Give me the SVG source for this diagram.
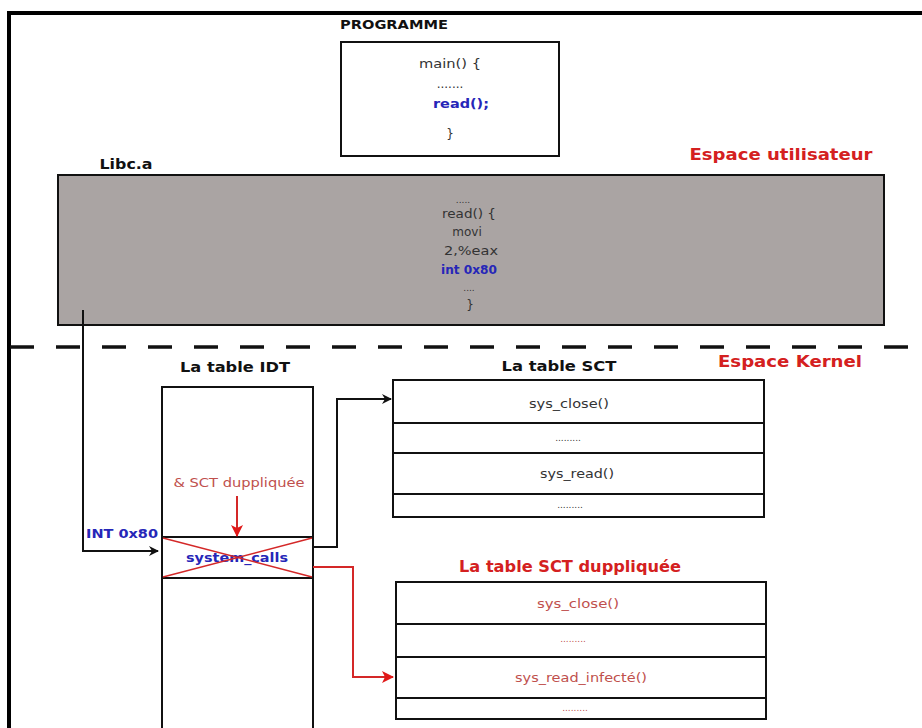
<svg xmlns="http://www.w3.org/2000/svg" width="922" height="728" viewBox="0 0 922 728">
<style>
text{font-family:"DejaVu Sans",Verdana,sans-serif;text-anchor:middle}
.h{font-weight:bold;font-size:14px;fill:#111}
.r{font-weight:bold;font-size:16px;fill:#d42020}
.c{font-size:12px;fill:#333}
.b{font-weight:bold;font-size:12px;fill:#2626b8}
.pr{font-size:12px;fill:#c0504d}
.box{fill:#fff;stroke:#111;stroke-width:2}
.ln{stroke:#111;stroke-width:2;fill:none}
.rl{stroke:#d42828;stroke-width:2;fill:none}
</style>
<defs>
<marker id="ab" markerWidth="10" markerHeight="10" refX="9" refY="5" orient="auto" markerUnits="userSpaceOnUse"><path d="M0,0 L10,5 L0,10 L3,5 Z" fill="#111"/></marker>
<marker id="ar" markerWidth="12" markerHeight="12" refX="11" refY="6" orient="auto" markerUnits="userSpaceOnUse"><path d="M0,0 L12,6 L0,12 L3,6 Z" fill="#e01818"/></marker>
</defs>
<rect width="922" height="728" fill="#fff"/>
<path d="M9,728 V13 H922" fill="none" stroke="#000" stroke-width="4"/>
<line x1="10" y1="347" x2="922" y2="347" stroke="#111" stroke-width="3.5" stroke-dasharray="24 22"/>
<text x="781" y="160" class="r" textLength="183" lengthAdjust="spacingAndGlyphs">Espace utilisateur</text>
<text x="790" y="367" class="r" textLength="144" lengthAdjust="spacingAndGlyphs">Espace Kernel</text>

<g id="programme">
<text x="394" y="29" class="h" style="font-size:12px" textLength="108" lengthAdjust="spacingAndGlyphs">PROGRAMME</text>
<rect x="341" y="42" width="218" height="114" class="box"/>
<text x="450" y="68" class="c" textLength="62" lengthAdjust="spacingAndGlyphs">main() {</text>
<text x="450" y="88" class="c">.......</text>
<text x="461" y="108" class="b" textLength="56" lengthAdjust="spacingAndGlyphs">read();</text>
<text x="450" y="138" class="c">}</text>
</g>

<g id="libc">
<text x="126" y="169" class="h" textLength="53" lengthAdjust="spacingAndGlyphs">Libc.a</text>
<rect x="58" y="175" width="826" height="150" fill="#aaa4a3" stroke="#111" stroke-width="2"/>
<text x="463" y="203" class="c" style="font-size:9px">.....</text>
<text x="469" y="218" class="c" textLength="54" lengthAdjust="spacingAndGlyphs">read() {</text>
<text x="467" y="236" class="c">movi</text>
<text x="471" y="255" class="c" textLength="54" lengthAdjust="spacingAndGlyphs">2,%eax</text>
<text x="469" y="274" class="b" textLength="56" lengthAdjust="spacingAndGlyphs">int 0x80</text>
<text x="469" y="291" class="c" style="font-size:9px">....</text>
<text x="470" y="309" class="c">}</text>
</g>

<g id="idt">
<text x="235" y="372" class="h" textLength="110" lengthAdjust="spacingAndGlyphs">La table IDT</text>
<rect x="162" y="387" width="151" height="345" class="box"/>
<line x1="162" y1="537" x2="313" y2="537" class="ln"/>
<line x1="162" y1="578" x2="313" y2="578" class="ln"/>
<text x="239" y="487" class="pr" style="font-size:13px" textLength="131" lengthAdjust="spacingAndGlyphs">&amp; SCT duppliquée</text>
<text x="237" y="562" class="b" style="font-size:13px" textLength="102" lengthAdjust="spacingAndGlyphs">system_calls</text>
<line x1="163" y1="538" x2="312" y2="577" stroke="#d42828" stroke-width="1.5"/>
<line x1="312" y1="538" x2="163" y2="577" stroke="#d42828" stroke-width="1.5"/>
</g>

<g id="sct">
<text x="559" y="371" class="h" textLength="115" lengthAdjust="spacingAndGlyphs">La table SCT</text>
<rect x="393" y="380" width="371" height="137" class="box"/>
<line x1="393" y1="423" x2="764" y2="423" class="ln"/>
<line x1="393" y1="453" x2="764" y2="453" class="ln"/>
<line x1="393" y1="494" x2="764" y2="494" class="ln"/>
<text x="569" y="408" class="c" textLength="80" lengthAdjust="spacingAndGlyphs">sys_close()</text>
<text x="568" y="441" class="c" style="font-size:9px">.........</text>
<text x="577" y="478" class="c" textLength="74" lengthAdjust="spacingAndGlyphs">sys_read()</text>
<text x="570" y="508" class="c" style="font-size:9px">.........</text>
</g>

<g id="sct-dup">
<text x="570" y="572" class="r" style="font-size:15px" textLength="222" lengthAdjust="spacingAndGlyphs">La table SCT duppliquée</text>
<rect x="396" y="582" width="370" height="137" class="box"/>
<line x1="396" y1="624" x2="766" y2="624" class="ln"/>
<line x1="396" y1="657" x2="766" y2="657" class="ln"/>
<line x1="396" y1="698" x2="766" y2="698" class="ln"/>
<text x="578" y="608" class="pr" textLength="82" lengthAdjust="spacingAndGlyphs">sys_close()</text>
<text x="573" y="642" class="pr" style="font-size:9px">.........</text>
<text x="581" y="682" class="pr" textLength="132" lengthAdjust="spacingAndGlyphs">sys_read_infecté()</text>
<text x="575" y="711" class="pr" style="font-size:9px">.........</text>
</g>

<g id="connectors">
<polyline points="83,310 83,551 158,551" class="ln" marker-end="url(#ab)"/>
<text x="122" y="538" class="b" style="font-size:13px" textLength="72" lengthAdjust="spacingAndGlyphs">INT 0x80</text>
<polyline points="313,547 337,547 337,399 391,399" class="ln" marker-end="url(#ab)"/>
<line x1="237" y1="496" x2="237" y2="536" class="rl" marker-end="url(#ar)"/>
<polyline points="313,567 353,567 353,677 393,677" class="rl" marker-end="url(#ar)"/>
</g>
</svg>
